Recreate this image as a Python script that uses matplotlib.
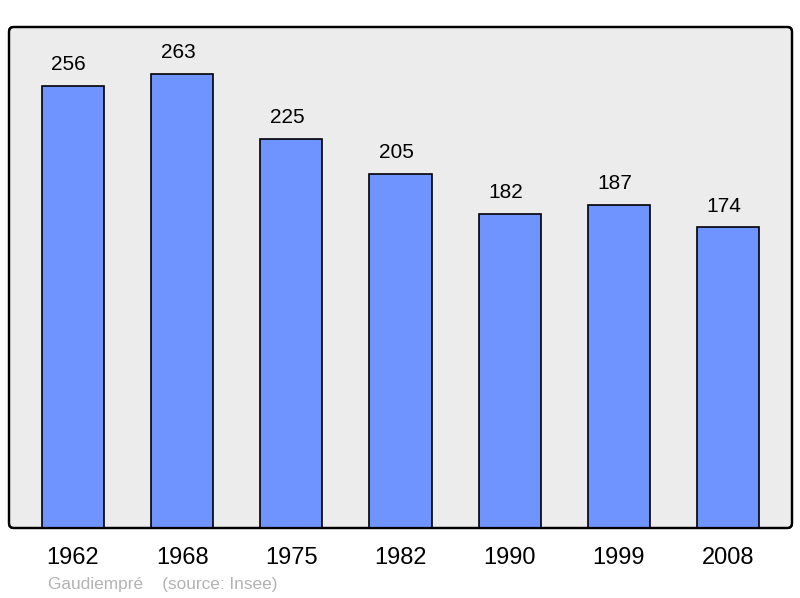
import matplotlib.pyplot as plt
from matplotlib.patches import FancyBboxPatch

# population data
years = ['1962', '1968', '1975', '1982', '1990', '1999', '2008']
population = [256, 263, 225, 205, 182, 187, 174]

plt.rcParams['font.family'] = ['Liberation Sans', 'DejaVu Sans']

fig = plt.figure(figsize=(8, 5.98), dpi=100)
ax = fig.add_axes([9 / 800, 70 / 598, 783 / 800, 501 / 598])

x = range(len(years))
bars = ax.bar(x, population, width=0.57, color='#7094ff', edgecolor='black',
              linewidth=1.2, zorder=3)

# value labels sit a little left of bar centre, like the original
for xi, v in zip(x, population):
    ax.annotate(str(v), (xi, v), xytext=(-3, 8.5), textcoords='offset points',
                ha='center', va='bottom', fontsize=15)

ax.set_xlim(-0.585, 6.585)
ax.set_ylim(0, 290)
ax.set_xticks(list(x))
ax.set_xticklabels(years, fontsize=17)
ax.tick_params(axis='x', length=0, pad=13.5)
ax.set_yticks([])

# frame with slightly rounded corners
ax.patch.set_visible(False)
for s in ax.spines.values():
    s.set_visible(False)
frame = FancyBboxPatch((0, 0), 1, 1, boxstyle='round,pad=0,rounding_size=0.006',
                       mutation_aspect=783 / 501, transform=ax.transAxes,
                       facecolor='#ececec', edgecolor='black', linewidth=1.6,
                       zorder=0, clip_on=False)
ax.add_patch(frame)
frame2 = FancyBboxPatch((0, 0), 1, 1, boxstyle='round,pad=0,rounding_size=0.006',
                        mutation_aspect=783 / 501, transform=ax.transAxes,
                        facecolor='none', edgecolor='black', linewidth=1.6,
                        zorder=4, clip_on=False)
ax.add_patch(frame2)

fig.text(48 / 800, 1 - 584 / 598, 'Gaudiempré    (source: Insee)', color='#b3b3b3',
         fontsize=12.4, va='center', ha='left')

fig.savefig('out.png', dpi=100)
